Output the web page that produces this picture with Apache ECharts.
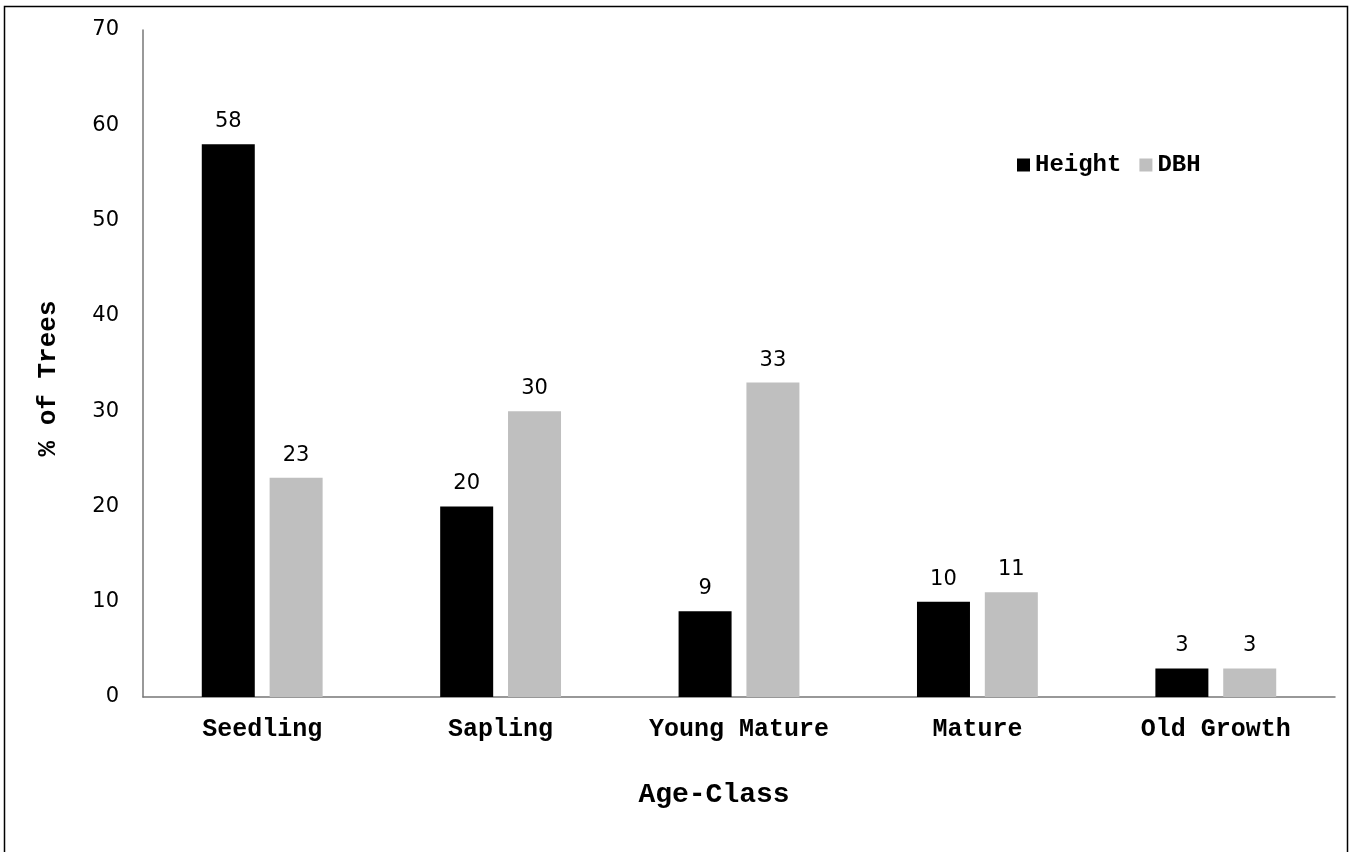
<!DOCTYPE html>
<html><head><meta charset="utf-8">
<script src="https://cdn.jsdelivr.net/npm/echarts@6/dist/echarts.min.js"></script>
<style>html,body{margin:0;padding:0;background:#fff}#c{width:1352px;height:852px}</style>
</head><body><div id="c"></div>
<script>
const categories = ['Seedling', 'Sapling', 'Young Mature', 'Mature', 'Old Growth'];
const heightValues = [58, 20, 9, 10, 3];
const dbhValues = [23, 30, 33, 11, 3];
const seriesNames = ['Height', 'DBH'];
const yTicks = { min: 0, max: 70, interval: 10 };

const mono = '"Liberation Mono", "Courier New", monospace';
const sans = '"DejaVu Sans", Verdana, sans-serif';
const chart = echarts.init(document.getElementById('c'));
const labelStyle = { show: true, position: 'top', distance: 12, fontFamily: sans, fontSize: 21, color: '#000' };
chart.setOption({
  animation: false,
  graphic: [{ type: 'rect', shape: { x: 4.5, y: 6.5, width: 1343, height: 860 }, style: { fill: 'none', stroke: '#000', lineWidth: 1.5 } }],
  grid: { left: 143, right: 17, top: 30, bottom: 155, containLabel: false },
  legend: {
    data: seriesNames, left: 1012, top: 148, itemWidth: 13, itemHeight: 13, itemGap: 18,
    icon: 'rect', textStyle: { fontFamily: mono, fontWeight: 'bold', fontSize: 24, color: '#000' },
    formatter: n => n
  },
  xAxis: {
    type: 'category', data: categories,
    axisLine: { lineStyle: { color: '#777', width: 1.5 } },
    axisTick: { show: false },
    axisLabel: { fontFamily: mono, fontWeight: 'bold', fontSize: 25, color: '#000', margin: 20 },
    name: 'Age-Class', nameLocation: 'middle', nameGap: 84,
    nameTextStyle: { fontFamily: mono, fontWeight: 'bold', fontSize: 28, color: '#000', padding: [0, 50, 0, 0] }
  },
  yAxis: {
    type: 'value', min: yTicks.min, max: yTicks.max, interval: yTicks.interval,
    axisLine: { show: true, lineStyle: { color: '#777', width: 1.5 } },
    axisTick: { show: false }, splitLine: { show: false },
    axisLabel: { fontFamily: sans, fontSize: 21, color: '#000', margin: 24 },
    name: '% of Trees', nameLocation: 'middle', nameGap: 82, nameRotate: 90,
    nameTextStyle: { fontFamily: mono, fontWeight: 'bold', fontSize: 26, color: '#000', padding: [0, 30, 0, 0] }
  },
  series: [
    { name: seriesNames[0], type: 'bar', data: heightValues, barWidth: 53, barGap: '28%', itemStyle: { color: '#000' }, label: labelStyle },
    { name: seriesNames[1], type: 'bar', data: dbhValues, barWidth: 53, barGap: '28%', itemStyle: { color: '#bfbfbf' }, label: labelStyle }
  ]
});
</script></body></html>
